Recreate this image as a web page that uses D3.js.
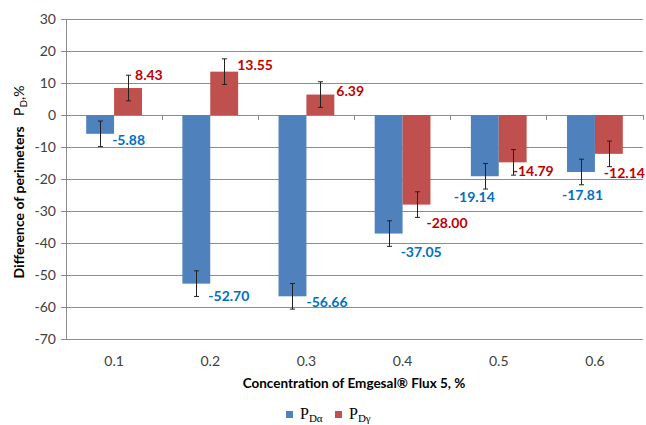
<!DOCTYPE html>
<html>
<head>
<meta charset="utf-8">
<script src="https://cdn.jsdelivr.net/npm/d3@7"></script>
<style>
  body { margin:0; background:#fff; }
  text { font-family: Lato, "Open Sans", sans-serif; }
</style>
</head>
<body>
<svg id="chart" width="646" height="425"></svg>
<script>
// data
const categories = ['0.1','0.2','0.3','0.4','0.5','0.6'];
const series = ['alpha','gamma'];
const alphaValues = [-5.88, -52.70, -56.66, -37.05, -19.14, -17.81];
const gammaValues = [8.43, 13.55, 6.39, -28.00, -14.79, -12.14];
const alphaErrors = [4, 4, 4, 4, 4, 4];
const gammaErrors = [4, 4, 4, 4, 4, 4];
const yTicks = [30, 20, 10, 0, -10, -20, -30, -40, -50, -60, -70];

// label nudges (px) from the bar end, hand-placed like in the original
const alphaNudge = [[12,6],[12,12],[14,6],[12,19],[-31,21],[-19,23]];
const gammaNudge = [[7,-13],[13,-7],[16,-3],[10,18],[0,9],[-5,19]];

const colors = { alpha:'#4F81BD', gamma:'#C0504D' };
const labelColors = { alpha:'#0070C0', gamma:'#C00000' };

const svg = d3.select('#chart');
const plotL = 66, plotR = 643, plotT = 19, plotB = 339;

const y = d3.scaleLinear().domain([-70, 30]).range([plotB, plotT]);
const x = d3.scaleBand().domain(categories).range([plotL, plotR]);
const bw = x.bandwidth();
const x1 = d3.scaleBand().domain(series).range([bw*0.21, bw*0.79]);

// gridlines
svg.append('g').selectAll('line').data(yTicks).enter().append('line')
  .attr('x1', plotL).attr('x2', plotR)
  .attr('y1', d => y(d)).attr('y2', d => y(d))
  .attr('stroke', '#8c8c8c').attr('stroke-width', 1)
  .attr('shape-rendering', 'crispEdges');

// y axis (plain hyphen for negatives, like the original)
const yAxis = d3.axisLeft(y).tickValues(yTicks).tickFormat(d => String(d)).tickSize(5).tickPadding(5);
const gy = svg.append('g').attr('transform', `translate(${plotL},0)`).call(yAxis);
gy.select('.domain').attr('stroke', '#8c8c8c').attr('shape-rendering', 'crispEdges');
gy.selectAll('.tick line').attr('stroke', '#8c8c8c').attr('shape-rendering', 'crispEdges');
gy.selectAll('.tick text').attr('fill', '#404040').style('font-size', '14px')
  .style('font-family', 'Lato, sans-serif');

// category ticks on the zero line
const bounds = categories.map(c => x(c) + bw);
svg.append('g').selectAll('line').data(bounds).enter().append('line')
  .attr('x1', d => d).attr('x2', d => d)
  .attr('y1', y(0)).attr('y2', y(0) + 5)
  .attr('stroke', '#8c8c8c').attr('shape-rendering', 'crispEdges');

// x tick labels
svg.append('g').selectAll('text').data(categories).enter().append('text')
  .attr('x', d => x(d) + bw/2).attr('y', 366)
  .attr('text-anchor', 'middle').attr('fill', '#404040')
  .style('font-size', '14px').text(d => d);

// bars
const rows = [];
categories.forEach((c, i) => {
  rows.push({ cat:c, s:'alpha', v:alphaValues[i], e:alphaErrors[i], n:alphaNudge[i] });
  rows.push({ cat:c, s:'gamma', v:gammaValues[i], e:gammaErrors[i], n:gammaNudge[i] });
});

svg.append('g').selectAll('rect').data(rows).enter().append('rect')
  .attr('x', d => x(d.cat) + x1(d.s))
  .attr('width', x1.bandwidth())
  .attr('y', d => y(Math.max(0, d.v)))
  .attr('height', d => Math.abs(y(d.v) - y(0)))
  .attr('fill', d => colors[d.s]);

// error bars
const eb = svg.append('g').attr('stroke', '#222').attr('stroke-width', 1);
rows.forEach(d => {
  const cx = Math.round(x(d.cat) + x1(d.s) + x1.bandwidth()/2) + 0.5;
  eb.append('line').attr('x1', cx).attr('x2', cx).attr('y1', y(d.v + d.e)).attr('y2', y(d.v - d.e));
  [d.v + d.e, d.v - d.e].forEach(v => {
    eb.append('line').attr('x1', cx - 2.5).attr('x2', cx + 2.5).attr('y1', y(v)).attr('y2', y(v));
  });
});

// data labels
svg.append('g').selectAll('text').data(rows).enter().append('text')
  .attr('x', d => x(d.cat) + x1(d.s) + x1.bandwidth()/2 + d.n[0])
  .attr('y', d => y(d.v) + d.n[1])
  .attr('dy', '0.35em')
  .attr('fill', d => labelColors[d.s])
  .style('font-size', '14px').style('font-weight', 'bold')
  .text(d => d.v.toFixed(2));

// axis titles
svg.append('text').attr('x', 354).attr('y', 388).attr('text-anchor', 'middle')
  .style('font-size', '13.5px').style('font-weight', 'bold').attr('fill', '#000')
  .text('Concentration of Emgesal\u00AE Flux 5, %');

const yt = svg.append('text').attr('transform', 'translate(24,182) rotate(-90)')
  .attr('text-anchor', 'middle').style('font-size', '14px').attr('fill', '#000');
yt.append('tspan').style('font-weight', 'bold').text('Difference of perimeters\u00A0\u00A0\u00A0');
yt.append('tspan').text('P');
yt.append('tspan').attr('dy', 3).style('font-size', '10px').text('D');
yt.append('tspan').attr('dy', -3).text(',%');

// legend
const legendItems = [{ s:'alpha', sub:'D\u03B1', x:286 }, { s:'gamma', sub:'D\u03B3', x:335 }];
const lg = svg.append('g');
legendItems.forEach(d => {
  lg.append('rect').attr('x', d.x).attr('y', 411).attr('width', 7).attr('height', 7).attr('fill', colors[d.s]);
  const t = lg.append('text').attr('x', d.x + 14).attr('y', 419)
    .style('font-family', '"Liberation Serif", serif').style('font-size', '16px').attr('fill', '#000');
  t.append('tspan').text('P');
  t.append('tspan').attr('dy', 3).style('font-size', '11px').text(d.sub);
});
</script>
</body>
</html>
